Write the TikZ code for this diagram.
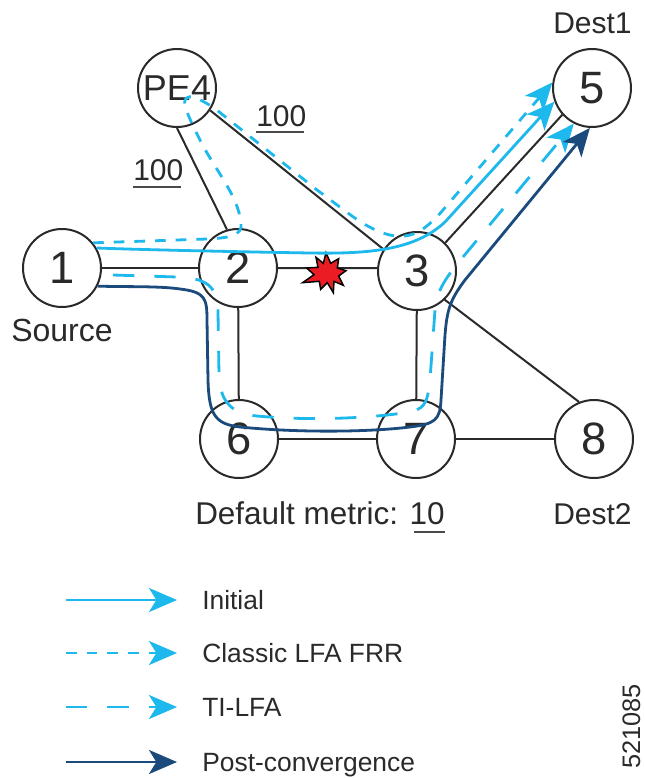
\documentclass[tikz,border=0pt]{standalone}
\usepackage{fontspec}
\setmainfont{Liberation Sans}
\usetikzlibrary{arrows.meta}
\definecolor{cyanline}{HTML}{1DB8EC}
\definecolor{navyline}{HTML}{1B4A7C}
\definecolor{inkline}{HTML}{2A2A2A}
\definecolor{failred}{HTML}{EC1C24}
\tikzset{
  router/.style={circle,draw=inkline,line width=1.5pt,fill=white,minimum size=58.5pt,inner sep=0pt,text=inkline,font=\fontsize{34}{34}\selectfont},
  link/.style={draw=inkline,line width=1.5pt},
  tip/.style={-{Stealth[length=21pt,width=18pt,inset=5.5pt]}},
  initial/.style={tip,draw=cyanline,line width=2.1pt},
  classic/.style={tip,draw=cyanline,line width=2.1pt,dash pattern=on 8pt off 7.5pt},
  tilfa/.style={tip,draw=cyanline,line width=2.1pt,dash pattern=on 16pt off 15pt},
  post/.style={tip,draw=navyline,line width=2.1pt},
  lbl/.style={inner sep=0pt,anchor=base west,text=inkline,font=\fontsize{22.5}{22.5}\selectfont},
  legendlbl/.style={inner sep=0pt,anchor=base west,text=inkline,font=\fontsize{19.8}{19.8}\selectfont},
  rule/.style={draw=inkline!85,line width=1.5pt},
}
\begin{document}
\begin{tikzpicture}[x=0.75pt,y=-0.75pt]
\useasboundingbox[fill=white] (0,0) rectangle (645,778);
% routers
\node[router,font=\fontsize{27}{27}\selectfont] (pe4) at (177,88) {PE4};
\node[router] (n1) at (62,268) {1};
\node[router] (n2) at (238,268) {2};
\node[router] (n3) at (417,271) {3};
\node[router] (n5) at (592,88) {5};
\node[router] (n6) at (239,439) {6};
\node[router] (n7) at (416,439) {7};
\node[router] (n8) at (594,439) {8};
% links
\draw[link] (n1) -- (n2);
\draw[link] (n2) -- (n3.176);
\draw[link] (pe4.-90) -- (n2.106);
\draw[link] (pe4.-34) -- (n3.147);
\draw[link] (n3.45) -- (n5.222);
\draw[link] (n3.-46) -- (n8.112);
\draw[link] (n2) -- (n6);
\draw[link] (n3) -- (n7);
\draw[link] (n6) -- (n7);
\draw[link] (n7) -- (n8);
% failure
\begin{scope}[shift={(290,240)},x=0.25pt,y=-0.25pt]
\draw[fill=failred,draw=black,line width=1.1pt,line join=miter]
  (108,38)--(122,70)--(146,56)--(142,84)--(168,92)--(146,108)--(160,136)--(132,124)--(130,158)
  --(112,128)--(92,148)--(88,124)--(38,128)--(72,104)--(50,84)--(84,82)--(78,52)--(100,70)--cycle;
\end{scope}
% paths
\coordinate (tistart) at (113,275);
\draw[initial] (n1.30) .. controls (150,250) and (250,252) .. (310,253)
  .. controls (370,254) and (415,250) .. (445,222) -- (n5.200);
\draw[classic] (n1.39) -- (207,239) .. controls (228,238) and (243,236) .. (241,223)
  .. controls (238,195) and (215,170) .. (200,140) .. controls (190,120) and (183,105) .. (185,100)
  .. controls (190,92) and (200,100) .. (213,107) -- (317,190)
  .. controls (345,210) and (368,232) .. (395,236) .. controls (415,238) and (425,228) .. (437,217) -- (n5.172);
\draw[tilfa] (tistart) -- (177,277) .. controls (205,278) and (218,285) .. (218,312)
  -- (219,375) .. controls (220,405) and (235,414) .. (257,416)
  .. controls (310,421) and (370,418) .. (403,413) .. controls (425,410) and (427,405) .. (430,380)
  -- (435,310) .. controls (437,295) and (440,285) .. (458,263) -- (n5.243);
\draw[post] (n1.-27) .. controls (130,287) and (160,286) .. (180,289)
  .. controls (205,292) and (207,298) .. (207,320) -- (208,380)
  .. controls (209,415) and (215,424) .. (240,427) .. controls (300,433) and (370,432) .. (410,427)
  .. controls (435,424) and (440,420) .. (441,400) -- (445,335)
  .. controls (447,310) and (450,300) .. (465,280) -- (n5.267);
% labels
\node[lbl] (dest1) at (553,33) {Dest1};
\node[lbl,font=\fontsize{24}{24}\selectfont] (source) at (11,341) {Source};
\node[lbl,font=\fontsize{23.6}{23.6}\selectfont] (metric) at (195,524) {Default metric: 10};
\node[lbl] (dest2) at (553,524) {Dest2};
\node[lbl] (w1) at (133,180) {100};
\node[lbl] (w2) at (256,126) {100};
\draw[rule] (w1.base west) ++(0,7) -- ++(48,0);
\draw[rule] (w2.base west) ++(0,6) -- ++(48,0);
\draw[rule] (metric.base east) ++(-31,8) -- ++(31,0);
% legend
\foreach \nm/\yy/\sty/\txt in {a/600/initial/Initial,b/653/classic/Classic LFA FRR,c/707/tilfa/TI-LFA,d/762/post/Post-convergence}{
  \coordinate (ls\nm) at (66,\yy);
  \coordinate (le\nm) at (177,\yy);
  \draw[\sty] (ls\nm) -- (le\nm);
  \node[legendlbl] (lt\nm) at (202,\yy+9) {\txt};
}
\node[inner sep=0pt,rotate=90,anchor=base west,text=inkline,font=\fontsize{19}{19}\selectfont] (code) at (640,769) {521085};
\end{tikzpicture}
\end{document}
